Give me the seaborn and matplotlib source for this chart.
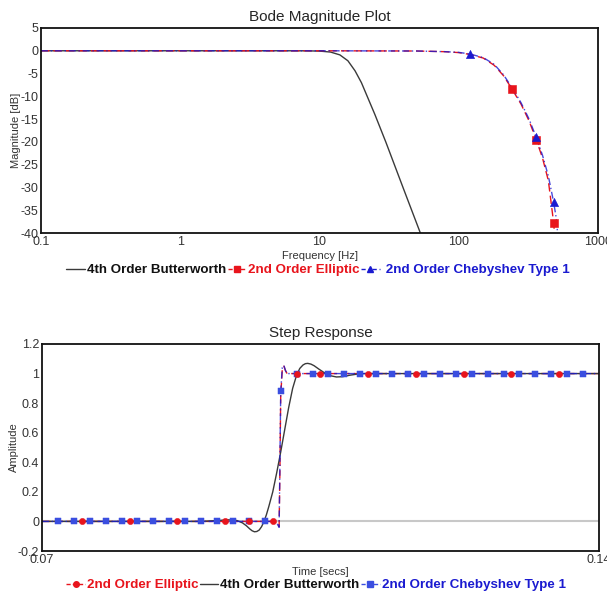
import numpy as np
import pandas as pd
import seaborn as sns
import matplotlib.pyplot as plt
from matplotlib.lines import Line2D

# Bode magnitude data (frequency in Hz, magnitude in dB)
bw_freq = [0.1, 1, 5, 8, 10, 12, 14, 16, 18, 20, 25, 30, 40, 53, 60]
bw_mag = [0, 0, 0, -0.01, -0.07, -0.28, -0.9, -2.2, -4.4, -7.0, -14.0, -20.1, -30.2, -40, -44]

ell_freq = [0.1, 10, 50, 80, 100, 120, 150, 180, 210, 240, 280, 320, 360, 400, 440, 480, 490, 500]
ell_mag = [0, 0, -0.05, -0.2, -0.4, -0.8, -1.6, -3.2, -5.5, -8.3, -11.7, -15.4, -19.5, -23.6, -28.5, -37.7, -41, -46]
ell_mark_freq = [240, 360, 480]
ell_mark_mag = [-8.3, -19.5, -37.7]

cheb_freq = [0.1, 10, 50, 80, 100, 120, 150, 180, 210, 240, 280, 320, 360, 400, 440, 480, 500, 520]
cheb_mag = [0, 0, -0.05, -0.2, -0.35, -0.7, -1.5, -3.0, -5.3, -8.0, -11.4, -15.0, -19.0, -23.0, -27.5, -33.2, -36.5, -42]
cheb_mark_freq = [120, 360, 480]
cheb_mark_mag = [-0.7, -19.0, -33.2]

bode_xticks = [0.1, 1, 10, 100, 1000]
bode_xlabels = ['0.1', '1', '10', '100', '1000']
bode_yticks = [5, 0, -5, -10, -15, -20, -25, -30, -35, -40]

# Step response data (time in s, amplitude)
bw_t = [0.07, 0.090, 0.0920, 0.0934, 0.0945, 0.0952, 0.0957, 0.0961, 0.0964, 0.0967, 0.0970,
        0.0973, 0.0976, 0.0979, 0.0982, 0.0985, 0.0990, 0.0995, 0.1000, 0.1005, 0.1010, 0.1015,
        0.1020, 0.1024, 0.1028, 0.1031, 0.1034, 0.1038, 0.1042, 0.1048, 0.1055, 0.1062, 0.1070,
        0.1078, 0.1087, 0.1097, 0.1105, 0.14]
bw_step = [0, 0, 0.006, 0.011, 0.006, -0.01, -0.03, -0.05, -0.063, -0.07, -0.068,
           -0.058, -0.035, 0.0, 0.045, 0.1, 0.2, 0.33, 0.47, 0.62, 0.77, 0.9,
           0.99, 1.035, 1.058, 1.067, 1.069, 1.064, 1.053, 1.03, 1.005, 0.986, 0.977,
           0.979, 0.989, 0.997, 1.0, 1.0]

ell_t = [0.07, 0.0990, 0.0995, 0.0997, 0.0998, 0.0999, 0.1000, 0.1002, 0.1004, 0.1006, 0.1008, 0.1012, 0.14]
ell_step = [0, 0, -0.01, -0.025, -0.035, 0.35, 0.85, 1.03, 1.05, 1.02, 1.0, 1.0, 1.0]
ell_mark_t = [0.075, 0.081, 0.087, 0.093, 0.096, 0.099, 0.102, 0.105, 0.111, 0.117, 0.123, 0.129, 0.135]
ell_mark_y = [0, 0, 0, 0, 0, 0, 1, 1, 1, 1, 1, 1, 1]

cheb_t = [0.07, 0.0990, 0.0995, 0.0997, 0.0998, 0.0999, 0.1000, 0.1002, 0.1004, 0.1006, 0.1008, 0.1012, 0.14]
cheb_step = [0, 0, -0.01, -0.03, -0.04, 0.4, 0.88, 1.04, 1.055, 1.02, 1.0, 1.0, 1.0]
cheb_mark_t = [0.072, 0.074, 0.076, 0.078, 0.080, 0.082, 0.084, 0.086, 0.088, 0.090, 0.092, 0.094,
               0.096, 0.098, 0.100, 0.102, 0.104, 0.106, 0.108, 0.110, 0.112, 0.114, 0.116, 0.118,
               0.120, 0.122, 0.124, 0.126, 0.128, 0.130, 0.132, 0.134, 0.136, 0.138]
cheb_mark_y = [0, 0, 0, 0, 0, 0, 0, 0, 0, 0, 0, 0,
               0, 0, 0.88, 1, 1, 1, 1, 1, 1, 1, 1, 1,
               1, 1, 1, 1, 1, 1, 1, 1, 1, 1]

step_yticks = [-0.2, 0, 0.2, 0.4, 0.6, 0.8, 1, 1.2]
step_ylabels = ['-0.2', '0', '0.2', '0.4', '0.6', '0.8', '1', '1.2']

RED = '#e8141c'
BLUE = '#1a1ad0'
BLUE_MK = '#3a4ee0'
DARK = '#3a3a3a'

sns.set_style('white')
plt.rcParams['font.family'] = ['Liberation Sans', 'DejaVu Sans']
plt.rcParams['axes.edgecolor'] = '#111111'
plt.rcParams['axes.linewidth'] = 1.3

fig = plt.figure(figsize=(6.07, 5.93), dpi=100)
ax1 = fig.add_axes([41 / 607, 1 - 233 / 593, 557 / 607, 205 / 593])
ax2 = fig.add_axes([42 / 607, 1 - 551 / 593, 557 / 607, 207 / 593])

# ---- Bode magnitude plot ----
sns.lineplot(data=pd.DataFrame({'f': bw_freq, 'm': bw_mag}), x='f', y='m', ax=ax1,
             color=DARK, linewidth=1.0)
sns.lineplot(data=pd.DataFrame({'f': ell_freq, 'm': ell_mag}), x='f', y='m', ax=ax1,
             color=RED, linewidth=1.0, linestyle=(0, (6, 3)))
sns.lineplot(data=pd.DataFrame({'f': cheb_freq, 'm': cheb_mag}), x='f', y='m', ax=ax1,
             color=BLUE, linewidth=1.0, linestyle=(0, (5, 2, 1, 2)), alpha=0.8)
sns.scatterplot(x=ell_mark_freq, y=ell_mark_mag, ax=ax1, marker='s', color=RED, s=28,
                edgecolor=RED, zorder=4)
sns.scatterplot(x=cheb_mark_freq, y=cheb_mark_mag, ax=ax1, marker='^', color=BLUE, s=34,
                edgecolor=BLUE, zorder=5)

ax1.set_xscale('log')
ax1.set_xlim(0.1, 1000)
ax1.set_ylim(-40, 5)
ax1.set_xticks(bode_xticks)
ax1.set_xticklabels(bode_xlabels)
ax1.minorticks_off()
ax1.set_yticks(bode_yticks)
ax1.set_yticklabels([str(v) for v in bode_yticks])
ax1.set_title('Bode Magnitude Plot', fontsize=11, pad=5)
ax1.set_xlabel('Frequency [Hz]', fontsize=8, labelpad=2, color='#333333')
ax1.set_ylabel('Magnitude [dB]', fontsize=8, color='#333333')
ax1.yaxis.set_label_coords(-0.036, 0.5)

# ---- Step response plot ----
ax2.axhline(0, color='#c8c8c8', linewidth=1.5, zorder=1)
sns.lineplot(data=pd.DataFrame({'t': ell_t, 'a': ell_step}), x='t', y='a', ax=ax2,
             color=RED, linewidth=1.0, linestyle=(0, (6, 3)))
sns.lineplot(data=pd.DataFrame({'t': bw_t, 'a': bw_step}), x='t', y='a', ax=ax2,
             color=DARK, linewidth=1.0)
sns.lineplot(data=pd.DataFrame({'t': cheb_t, 'a': cheb_step}), x='t', y='a', ax=ax2,
             color=BLUE, linewidth=1.0, linestyle=(0, (5, 2, 1, 2)), alpha=0.8)
sns.scatterplot(x=cheb_mark_t, y=cheb_mark_y, ax=ax2, marker='s', color=BLUE_MK, s=20,
                edgecolor=BLUE_MK, zorder=4)
sns.scatterplot(x=ell_mark_t, y=ell_mark_y, ax=ax2, marker='o', color=RED, s=20,
                edgecolor=RED, zorder=5)

ax2.set_xlim(0.07, 0.14)
ax2.set_ylim(-0.2, 1.2)
ax2.set_xticks([0.07, 0.14])
ax2.set_xticklabels(['0.07', '0.14'])
ax2.set_yticks(step_yticks)
ax2.set_yticklabels(step_ylabels)
ax2.set_title('Step Response', fontsize=11, pad=5)
ax2.set_xlabel('Time [secs]', fontsize=8, labelpad=1, color='#333333')
ax2.set_ylabel('Amplitude', fontsize=8, color='#333333')
ax2.yaxis.set_label_coords(-0.041, 0.5)

for ax in (ax1, ax2):
    ax.tick_params(axis='both', length=0, labelsize=9, labelcolor='#333333', pad=2)
    ax.grid(False)
    for s in ax.spines.values():
        s.set_visible(True)

# ---- legends ----
bw_h = Line2D([], [], color=DARK, linewidth=1.0)
ell_h1 = Line2D([], [], color=RED, linewidth=1.0, linestyle=(0, (3, 1.5)), marker='s', markersize=4)
cheb_h1 = Line2D([], [], color=BLUE, linewidth=1.0, linestyle=(0, (3, 2, 1, 2)), marker='^', markersize=5)
ell_h2 = Line2D([], [], color=RED, linewidth=1.0, linestyle=(0, (3, 1.5)), marker='o', markersize=4)
cheb_h2 = Line2D([], [], color=BLUE_MK, linewidth=1.0, linestyle=(0, (3, 1.5)), marker='s', markersize=4)

leg_font = {'family': ['Liberation Sans', 'DejaVu Sans'], 'weight': 'bold', 'size': 9.6}

leg1 = fig.legend([bw_h, ell_h1, cheb_h1],
                  ['4th Order Butterworth', '2nd Order Elliptic', ' 2nd Order Chebyshev Type 1'],
                  loc='center', bbox_to_anchor=(318 / 607, 1 - 270 / 593), ncol=3, frameon=False,
                  handlelength=1.4, handletextpad=0.15, columnspacing=0.1, prop=leg_font,
                  borderaxespad=0, borderpad=0)
for txt, c in zip(leg1.get_texts(), [DARK, RED, BLUE]):
    txt.set_color('#111111' if c == DARK else c)

leg2 = fig.legend([ell_h2, bw_h, cheb_h2],
                  ['2nd Order Elliptic', '4th Order Butterworth', '2nd Order Chebyshev Type 1'],
                  loc='center', bbox_to_anchor=(316 / 607, 1 - 585 / 593), ncol=3, frameon=False,
                  handlelength=1.4, handletextpad=0.15, columnspacing=0.1, prop=leg_font,
                  borderaxespad=0, borderpad=0)
for txt, c in zip(leg2.get_texts(), [RED, DARK, BLUE]):
    txt.set_color('#111111' if c == DARK else c)

fig.savefig('out.png', dpi=100)
